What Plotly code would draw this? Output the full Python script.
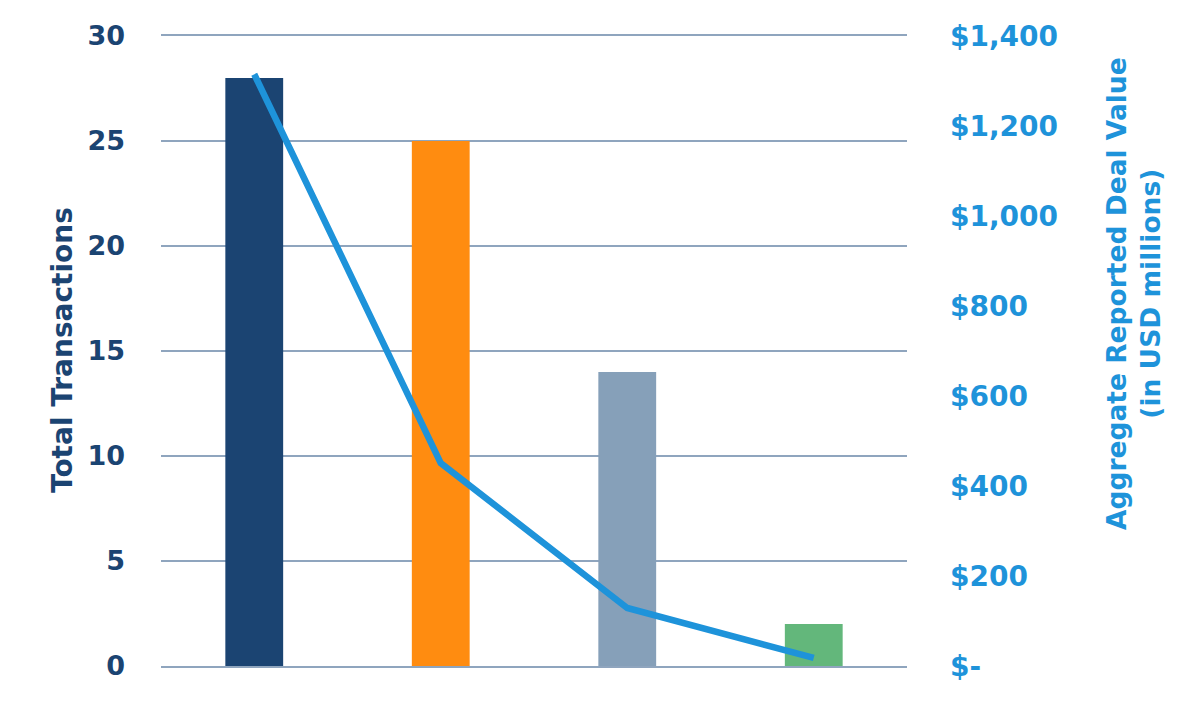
import plotly.graph_objects as go

categories = ["A", "B", "C", "D"]
transactions = [28, 25, 14, 2]
deal_value = [1315, 451, 129, 18]
bar_colors = ["#1B4472", "#FF8C10", "#86A0B9", "#63B77B"]

left_ticks = [0, 5, 10, 15, 20, 25, 30]
right_ticks = [0, 200, 400, 600, 800, 1000, 1200, 1400]
right_labels = ["$-", "$200", "$400", "$600", "$800", "$1,000", "$1,200", "$1,400"]

FONT = "DejaVu Sans"
NAVY = "#1B4472"
BLUE = "#1E93DA"
GRID = "#8FA5BE"

fig = go.Figure()
fig.add_trace(go.Bar(x=categories, y=transactions, marker=dict(color=bar_colors, line=dict(width=0)),
                     yaxis="y", showlegend=False))
fig.add_trace(go.Scatter(x=categories, y=deal_value, mode="lines", yaxis="y2",
                         line=dict(color=BLUE, width=6.5), showlegend=False))

# page body has an 8px offset; compensate so the plot lands where the reference has it
OFF = 8
W, H = 1200, 702
PL, PT, PW, PH = 161, 36, 746, 630  # target plot box in window pixels
L, T = PL - OFF, PT - OFF
R, B = W - L - PW, H - T - PH

fig.update_layout(
    width=W, height=H,
    margin=dict(l=L, r=R, t=T, b=B, autoexpand=False),
    plot_bgcolor="white", paper_bgcolor="white",
    bargap=0.69,
    xaxis=dict(showticklabels=False, showgrid=False, zeroline=False, showline=True, mirror=True,
               linecolor=GRID, linewidth=2, ticks="", automargin=False),
    yaxis=dict(range=[0, 30], tickvals=left_ticks, showgrid=True, gridcolor=GRID, gridwidth=2,
               zeroline=False, showline=False, ticks="", ticklabelstandoff=35, automargin=False,
               tickfont=dict(family=FONT, size=27, color=NAVY, weight="bold")),
    yaxis2=dict(range=[0, 1400], overlaying="y", side="right", tickvals=right_ticks, ticktext=right_labels,
                showgrid=False, zeroline=False, showline=False, ticks="", ticklabelstandoff=42,
                automargin=False,
                tickfont=dict(family=FONT, size=28, color=BLUE, weight="bold")),
)

def px(x, y):
    return (x - PL) / PW, (PT + PH - y) / PH

x1, y1 = px(62, 350)
x2, y2 = px(1133, 294)
fig.add_annotation(text="Total Transactions", x=x1, y=y1, xref="paper", yref="paper", showarrow=False,
                   textangle=-90, xanchor="center", yanchor="middle",
                   font=dict(family=FONT, size=28, color=NAVY, weight="bold"))
fig.add_annotation(text="Aggregate Reported Deal Value<br>(in USD millions)", x=x2, y=y2, xref="paper",
                   yref="paper", showarrow=False, textangle=-90, align="center",
                   xanchor="center", yanchor="middle",
                   font=dict(family=FONT, size=26.5, color=BLUE, weight="bold"))

fig.write_html("out.html")
